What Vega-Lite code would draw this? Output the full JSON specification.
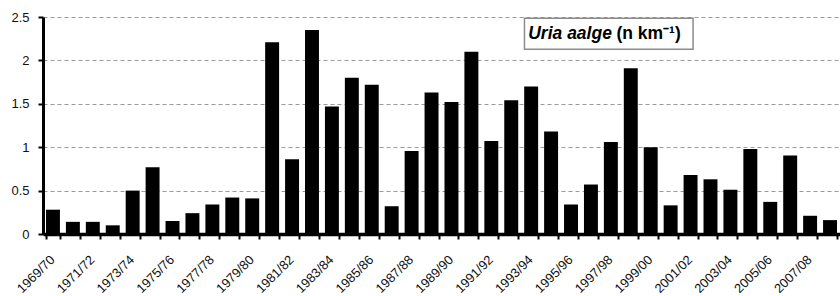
{
  "$schema": "https://vega.github.io/schema/vega-lite/v6.json",
  "width": 797,
  "height": 217,
  "autosize": {"type": "none"},
  "padding": {"left": 43, "top": 17, "right": 0, "bottom": 62},
  "background": "white",
  "config": {"view": {"stroke": null}, "font": "Liberation Sans"},
  "layer": [
    {
      "data": {"values": [
        {"season": "1969/70", "v": 0.28},
        {"season": "1970/71", "v": 0.14},
        {"season": "1971/72", "v": 0.14},
        {"season": "1972/73", "v": 0.10},
        {"season": "1973/74", "v": 0.50},
        {"season": "1974/75", "v": 0.77},
        {"season": "1975/76", "v": 0.15},
        {"season": "1976/77", "v": 0.24},
        {"season": "1977/78", "v": 0.34},
        {"season": "1978/79", "v": 0.42},
        {"season": "1979/80", "v": 0.41},
        {"season": "1980/81", "v": 2.21},
        {"season": "1981/82", "v": 0.86},
        {"season": "1982/83", "v": 2.35},
        {"season": "1983/84", "v": 1.47},
        {"season": "1984/85", "v": 1.80},
        {"season": "1985/86", "v": 1.72},
        {"season": "1986/87", "v": 0.32},
        {"season": "1987/88", "v": 0.955},
        {"season": "1988/89", "v": 1.63},
        {"season": "1989/90", "v": 1.52},
        {"season": "1990/91", "v": 2.10},
        {"season": "1991/92", "v": 1.07},
        {"season": "1992/93", "v": 1.54},
        {"season": "1993/94", "v": 1.70},
        {"season": "1994/95", "v": 1.18},
        {"season": "1995/96", "v": 0.34},
        {"season": "1996/97", "v": 0.57},
        {"season": "1997/98", "v": 1.06},
        {"season": "1998/99", "v": 1.91},
        {"season": "1999/00", "v": 1.00},
        {"season": "2000/01", "v": 0.33},
        {"season": "2001/02", "v": 0.68},
        {"season": "2002/03", "v": 0.63},
        {"season": "2003/04", "v": 0.51},
        {"season": "2004/05", "v": 0.98},
        {"season": "2005/06", "v": 0.37},
        {"season": "2006/07", "v": 0.905},
        {"season": "2007/08", "v": 0.21},
        {"season": "2008/09", "v": 0.16}
      ]},
      "mark": {"type": "bar", "color": "black"},
      "encoding": {
        "x": {
          "field": "season", "type": "nominal", "sort": null,
          "scale": {"paddingInner": 0.3, "paddingOuter": 0.15},
          "axis": {
            "title": null,
            "tickBand": "extent",
            "domainColor": "black", "domainWidth": 3.5,
            "tickColor": "black", "tickWidth": 2, "tickSize": 5,
            "labelAngle": -45, "labelFontSize": 13, "labelColor": "#111",
            "labelPadding": 14, "labelOffset": -5,
            "labelExpr": "toNumber(substring(datum.label,0,4)) % 2 == 1 ? datum.label : ''"
          }
        },
        "y": {
          "field": "v", "type": "quantitative",
          "scale": {"domain": [0, 2.5], "nice": false},
          "axis": {
            "title": null,
            "values": [0, 0.5, 1, 1.5, 2, 2.5],
            "labelExpr": "datum.value",
            "grid": true, "gridColor": "#9a9a9a", "gridDash": [4, 3], "gridWidth": 1.2,
            "domainColor": "black", "domainWidth": 3,
            "tickColor": "black", "tickWidth": 2, "tickSize": 5,
            "labelFontSize": 13, "labelColor": "#111", "labelPadding": 9
          }
        }
      }
    },
    {
      "data": {"values": [{"part": "box"}]},
      "mark": {"type": "rect", "fill": "white", "stroke": "#8c8c8c", "strokeWidth": 1.5},
      "encoding": {
        "x": {"datum": "1993/94", "bandPosition": 0.02},
        "x2": {"datum": "2001/02", "bandPosition": 0.68},
        "y": {"datum": 2.486},
        "y2": {"datum": 2.128}
      }
    },
    {
      "data": {"values": [{"part": "species"}]},
      "mark": {"type": "text", "align": "left", "baseline": "middle", "fontSize": 17.5, "fontWeight": "bold", "fontStyle": "italic", "color": "black"},
      "encoding": {
        "x": {"datum": "1993/94", "bandPosition": 0.29},
        "y": {"datum": 2.30},
        "text": {"value": "Uria aalge"}
      }
    },
    {
      "data": {"values": [{"part": "unit"}]},
      "mark": {"type": "text", "align": "left", "baseline": "middle", "fontSize": 17.5, "fontWeight": "bold", "color": "black"},
      "encoding": {
        "x": {"datum": "1997/98", "bandPosition": 0.9},
        "y": {"datum": 2.30},
        "text": {"value": "(n km⁻¹)"}
      }
    }
  ]
}
